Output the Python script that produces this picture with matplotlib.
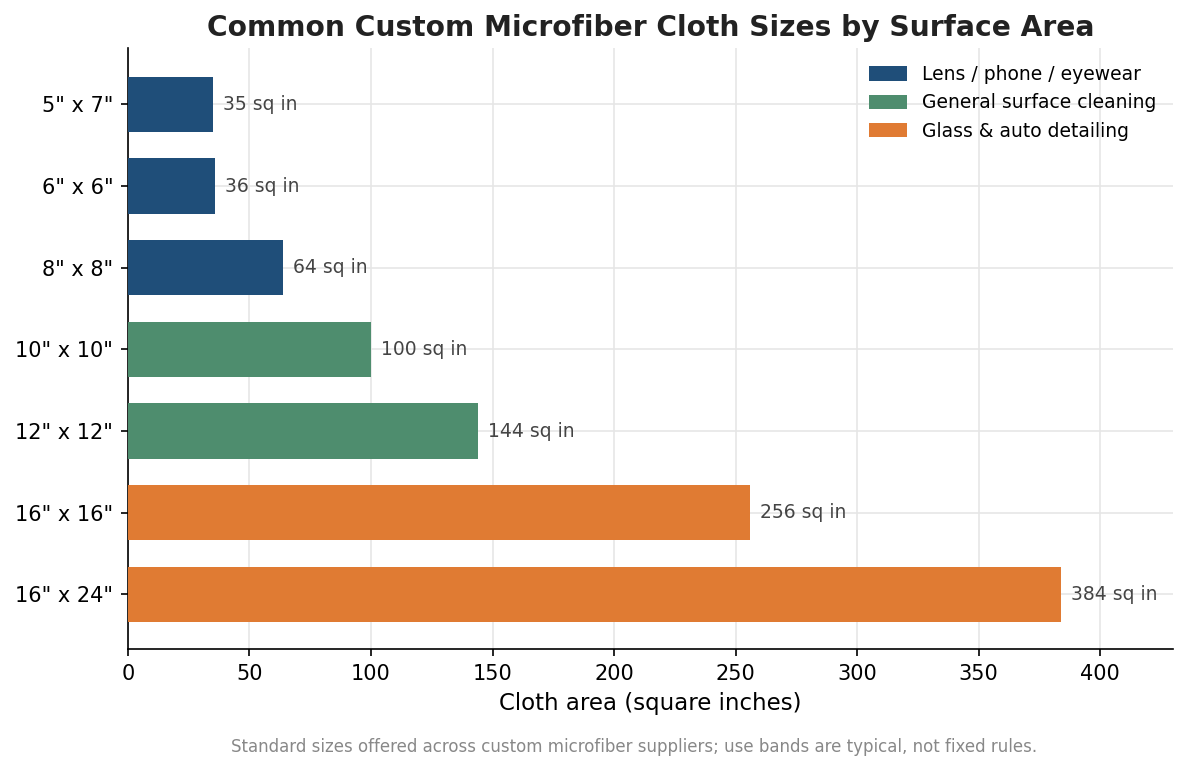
import matplotlib
matplotlib.use("Agg")
import matplotlib.pyplot as plt
from matplotlib.patches import Patch

sizes = ['5" x 7"', '6" x 6"', '8" x 8"', '10" x 10"', '12" x 12"', '16" x 16"', '16" x 24"']
areas = [35, 36, 64, 100, 144, 256, 384]
bands = ["lens", "lens", "lens", "general", "general", "glass", "glass"]

band_names = {
    "lens": "Lens / phone / eyewear",
    "general": "General surface cleaning",
    "glass": "Glass & auto detailing",
}
band_colors = {"lens": "#1f4e79", "general": "#4e8d6e", "glass": "#e07b33"}

fig = plt.figure(figsize=(7.92, 7.7 / 1.5), dpi=150)
ax = fig.add_axes([0.1077, 0.157, 0.8797, 0.7806])

ypos = list(range(len(sizes)))
ax.barh(ypos, areas, height=0.68, color=[band_colors[b] for b in bands], zorder=3)
for y, a in zip(ypos, areas):
    ax.text(a + 4, y, f"{a} sq in", va="center", ha="left", fontsize=9, color="#444444", zorder=4)

ax.set_yticks(ypos)
ax.set_yticklabels(sizes, fontsize=10)
ax.set_xlim(0, 430)
ax.set_ylim(len(sizes) - 0.33, -0.69)
ax.tick_params(axis="x", labelsize=10)
ax.set_xlabel("Cloth area (square inches)", fontsize=11)
ax.grid(True, color="#e6e6e6", linewidth=0.8, zorder=0)
ax.spines["top"].set_visible(False)
ax.spines["right"].set_visible(False)

handles = [Patch(facecolor=band_colors[k], label=band_names[k]) for k in ["lens", "general", "glass"]]
ax.legend(handles=handles, loc="upper right", frameon=False, fontsize=9,
          handlelength=2.0, handleheight=0.8)

ax.set_title("Common Custom Microfiber Cloth Sizes by Surface Area", fontsize=13.5,
             fontweight="bold", color="#222222", pad=6)
fig.text(0.534, 0.023, "Standard sizes offered across custom microfiber suppliers; use bands are typical, not fixed rules.",
         ha="center", fontsize=8, color="#888888")

fig.savefig("out.png", dpi=150)
